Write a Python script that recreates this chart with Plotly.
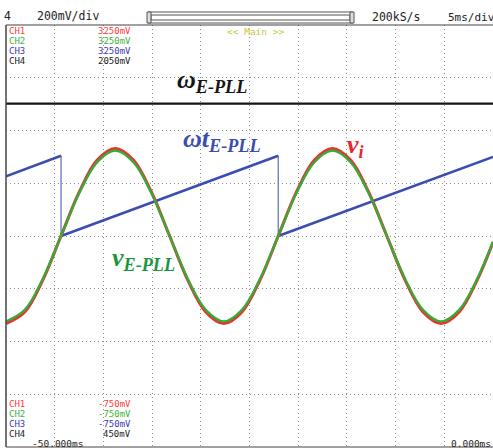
import plotly.graph_objects as go

# ---- data (time in ms, value in divisions from bottom of screen) ----
t_sine = [-50.00, -48.07, -46.21, -44.35, -42.49, -40.64, -38.78, -36.92, -35.06,
          -33.20, -31.35, -29.49, -27.63, -25.77, -23.91, -22.05, -20.19, -18.34,
          -16.48, -14.62, -12.76, -10.90, -9.04, -7.19, -5.33, -3.47, -1.61, 0.00]
v_i = [2.34, 2.56, 3.17, 4.00, 4.83, 5.44, 5.66, 5.44, 4.83,
       4.00, 3.17, 2.56, 2.34, 2.56, 3.17, 4.00, 4.83, 5.44,
       5.66, 5.44, 4.83, 4.00, 3.17, 2.56, 2.34, 2.56, 3.17, 3.88]
v_epll = [2.38, 2.60, 3.19, 4.00, 4.81, 5.40, 5.62, 5.40, 4.81,
          4.00, 3.19, 2.60, 2.38, 2.60, 3.19, 4.00, 4.81, 5.40,
          5.62, 5.40, 4.81, 4.00, 3.19, 2.60, 2.38, 2.60, 3.19, 3.89]

ramp_start_t = [-50.00, -44.35, -22.05]
ramp_start_v = [5.13, 4.00, 4.00]
ramp_end_t = [-44.35, -22.05, 0.00]
ramp_end_v = [5.52, 5.52, 5.50]

t_omega = [-50.0, 0.0]
omega_epll = [6.51, 6.51]

ch_names = ["CH1", "CH2", "CH3", "CH4"]
ch_top_vals = ["3250mV", "3250mV", "3250mV", "2050mV"]
ch_bot_vals = ["-750mV", "-750mV", "-750mV", "450mV"]
ch_text_colors = ["#ff3c3c", "#3cb43c", "#3c3cb4", "#222222"]

RED = "#e8332c"
GREEN = "#3aa83a"
BLUE = "#3b4db0"
BLACK = "#151515"

W, H = 493, 448
L, T, B = 6, 25, 1
PW = W - L
PH = H - T - B


def fx(px):
    return (px - L) / PW


def fy(py):
    return (H - B - py) / PH


fig = go.Figure()

# black omega line
fig.add_trace(go.Scatter(x=t_omega, y=omega_epll, mode="lines",
                         line=dict(color=BLACK, width=2.2), hoverinfo="skip"))

# sawtooth ramps
rx, ry, dx, dy = [], [], [], []
for i in range(len(ramp_start_t)):
    rx += [ramp_start_t[i], ramp_end_t[i], None]
    ry += [ramp_start_v[i], ramp_end_v[i], None]
    if i + 1 < len(ramp_start_t):
        dx += [ramp_end_t[i], ramp_start_t[i + 1], None]
        dy += [ramp_end_v[i], ramp_start_v[i + 1], None]
fig.add_trace(go.Scatter(x=dx, y=dy, mode="lines",
                         line=dict(color="#5a68c0", width=1.2), hoverinfo="skip"))
fig.add_trace(go.Scatter(x=rx, y=ry, mode="lines",
                         line=dict(color=BLUE, width=2.6), hoverinfo="skip"))

# sine waves
fig.add_trace(go.Scatter(x=t_sine, y=v_i, mode="lines",
                         line=dict(color=RED, width=3, shape="spline", smoothing=1.0),
                         hoverinfo="skip"))
fig.add_trace(go.Scatter(x=t_sine, y=v_epll, mode="lines",
                         line=dict(color=GREEN, width=2.4, shape="spline", smoothing=1.0),
                         hoverinfo="skip"))

ann = []
mono = "DejaVu Sans Mono"


def txt(px, py, s, color, size, anchor="left", family=mono):
    ann.append(dict(x=fx(px), y=fy(py), xref="paper", yref="paper", text=s,
                    showarrow=False, xanchor=anchor, yanchor="middle",
                    font=dict(family=family, size=size, color=color)))


# header
txt(2, 16, "4", "#222", 11.5)
txt(35, 16, "200mV/div", "#222", 11.5)
txt(370, 17, "200kS/s", "#222", 11.5)
txt(446, 17, "5ms/div", "#222", 11)

# channel labels top and bottom
for i in range(4):
    txt(7, 31 + 10 * i, ch_names[i], ch_text_colors[i], 9)
    txt(133, 31 + 10 * i, ch_top_vals[i], ch_text_colors[i], 9, anchor="right")
    txt(7, 404 + 10 * i, ch_names[i], ch_text_colors[i], 9)
    txt(133, 404 + 10 * i, ch_bot_vals[i], ch_text_colors[i], 9, anchor="right")
txt(225, 31, "&lt;&lt; Main &gt;&gt;", "#c8c43c", 9.5)
txt(30, 443, "-50.000ms", "#222", 9.5)
txt(493, 443, "0.000ms", "#222", 9.5, anchor="right")

# waveform labels
serif = "Liberation Serif"
txt(175, 81, "<b><i>ω<sub>E-PLL</sub></i></b>", BLACK, 26, family=serif)
txt(181, 140, "<b><i>ωt<sub>E-PLL</sub></i></b>", BLUE, 26, family=serif)
txt(345, 146, "<b><i>v<sub>i</sub></i></b>", "#e8262a", 26, family=serif)
txt(110, 259, "<b><i>v<sub>E-PLL</sub></i></b>", "#1a9640", 26, family=serif)

shapes = [
    # scroll bar
    dict(type="rect", xref="paper", yref="paper", x0=fx(148), x1=fx(353), y0=fy(23), y1=fy(12),
         line=dict(color="#555", width=1)),
    dict(type="rect", xref="paper", yref="paper", x0=fx(151), x1=fx(350), y0=fy(20), y1=fy(15),
         line=dict(color="#555", width=1)),
    dict(type="rect", xref="paper", yref="paper", x0=fx(147), x1=fx(151), y0=fy(23), y1=fy(12),
         line=dict(color="#555", width=1), fillcolor="#ddd"),
    dict(type="rect", xref="paper", yref="paper", x0=fx(350), x1=fx(354), y0=fy(23), y1=fy(12),
         line=dict(color="#555", width=1), fillcolor="#ddd"),
    # frame
    dict(type="line", xref="paper", yref="paper", x0=0, x1=1.02, y0=1, y1=1,
         line=dict(color="#444", width=1.2)),
    dict(type="line", xref="paper", yref="paper", x0=0, x1=1.02, y0=0, y1=0,
         line=dict(color="#444", width=1.2)),
    dict(type="line", xref="paper", yref="paper", x0=0, x1=0, y0=0, y1=1,
         line=dict(color="#444", width=1.5)),
]

fig.update_layout(
    width=W, height=H,
    margin=dict(l=L, r=0, t=T, b=B, pad=0),
    paper_bgcolor="white", plot_bgcolor="white",
    showlegend=False,
    annotations=ann, shapes=shapes,
    xaxis=dict(range=[-50, 0], dtick=5, tick0=-50, showgrid=True, gridcolor="#8f8f8f",
               griddash="1px,3px", gridwidth=1, zeroline=False, showticklabels=False,
               showline=False, fixedrange=True),
    yaxis=dict(range=[0, 8], dtick=1, tick0=0, showgrid=True, gridcolor="#8f8f8f",
               griddash="1px,3px", gridwidth=1, zeroline=False, showticklabels=False,
               showline=False, fixedrange=True),
)

fig.write_html("out.html", config={"displayModeBar": False},
               post_script="document.body.style.margin='0';document.body.style.overflow='hidden';")
